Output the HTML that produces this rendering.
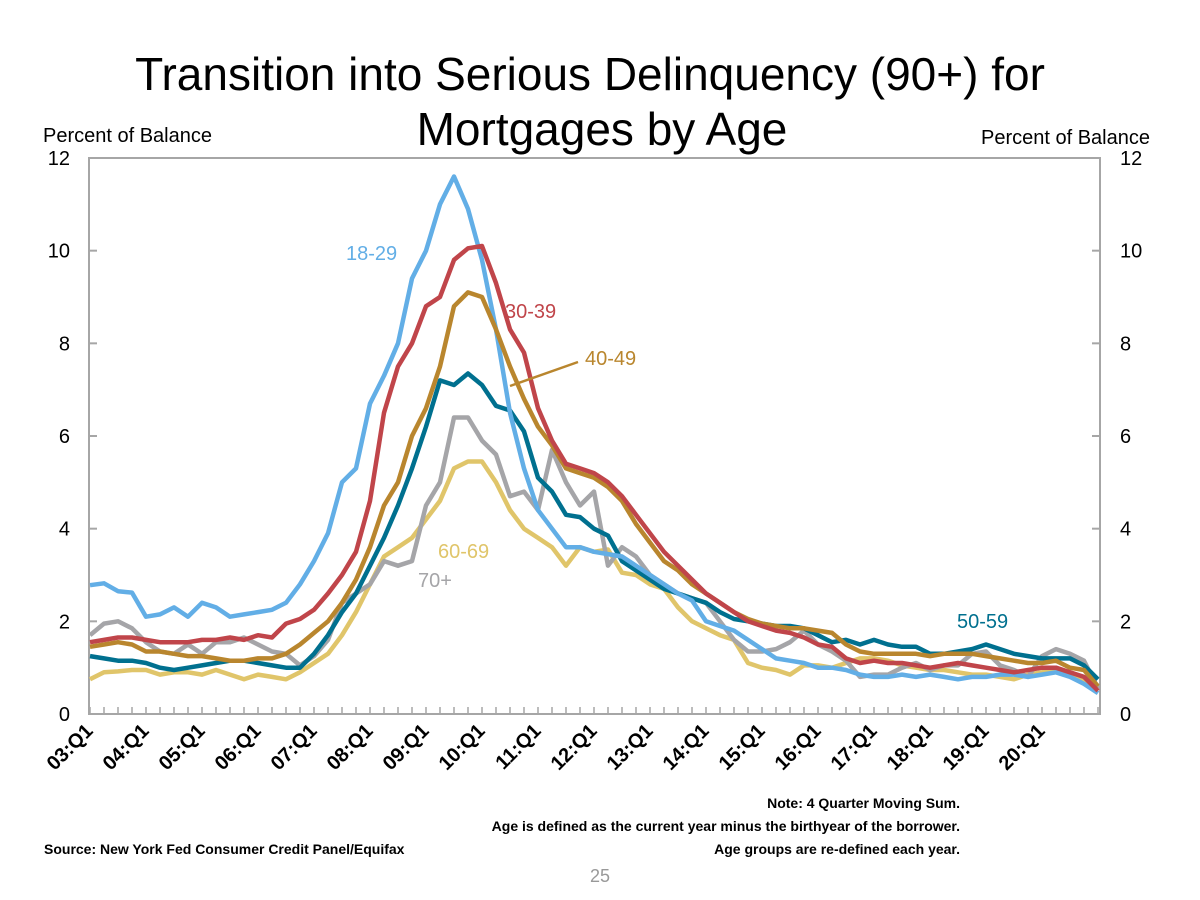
<!DOCTYPE html>
<html><head><meta charset="utf-8"><style>
body{margin:0;background:#fff;}
svg{display:block;font-family:"Liberation Sans",Arial,sans-serif;}
</style></head><body>
<svg id="chart" width="1200" height="900" viewBox="0 0 1200 900">
<text x="590" y="90" font-size="46" text-anchor="middle">Transition into Serious Delinquency (90+) for</text>
<text x="602" y="145" font-size="46" text-anchor="middle">Mortgages by Age</text>
<text x="43" y="142" font-size="20">Percent of Balance</text>
<text x="1150" y="144" font-size="20" text-anchor="end">Percent of Balance</text>
<g id="axes"></g>
<g id="series"></g>
<g id="labels">
<text x="346" y="260" font-size="20" fill="#62aee6">18-29</text>
<text x="505" y="318" font-size="20" fill="#c0454a">30-39</text>
<line x1="510" y1="386" x2="578" y2="362" stroke="#b9862e" stroke-width="2.5"/>
<text x="585" y="365" font-size="20" fill="#b9862e">40-49</text>
<text x="957" y="628" font-size="20" fill="#00708f">50-59</text>
<text x="438" y="558" font-size="20" fill="#e0c56a">60-69</text>
<text x="418" y="587" font-size="20" fill="#a5a5a8">70+</text>
</g>
<text x="960" y="808" font-size="14" font-weight="bold" text-anchor="end">Note: 4 Quarter Moving Sum.</text>
<text x="960" y="831" font-size="14" font-weight="bold" text-anchor="end">Age is defined as the current year minus the birthyear of the borrower.</text>
<text x="960" y="854" font-size="14" font-weight="bold" text-anchor="end">Age groups are re-defined each year.</text>
<text x="44" y="854" font-size="14" font-weight="bold">Source: New York Fed Consumer Credit Panel/Equifax</text>
<text x="600" y="882" font-size="18" fill="#999" text-anchor="middle">25</text>
</svg>
<script>
const yTicks=[0,2,4,6,8,10,12];
const yearLabels=["03:Q1","04:Q1","05:Q1","06:Q1","07:Q1","08:Q1","09:Q1","10:Q1","11:Q1","12:Q1","13:Q1","14:Q1","15:Q1","16:Q1","17:Q1","18:Q1","19:Q1","20:Q1"];
const s1829=[2.78,2.82,2.65,2.62,2.1,2.15,2.3,2.1,2.4,2.3,2.1,2.15,2.2,2.25,2.4,2.8,3.3,3.9,5.0,5.3,6.7,7.3,8.0,9.4,10.0,11.0,11.6,10.9,9.8,8.3,6.5,5.3,4.4,4.0,3.6,3.6,3.5,3.45,3.4,3.2,3.0,2.8,2.6,2.45,2.0,1.9,1.8,1.6,1.4,1.2,1.15,1.1,1.0,1.0,0.95,0.85,0.8,0.8,0.85,0.8,0.85,0.8,0.75,0.8,0.8,0.85,0.85,0.8,0.85,0.9,0.8,0.65,0.45];
const s3039=[1.55,1.6,1.65,1.65,1.6,1.55,1.55,1.55,1.6,1.6,1.65,1.6,1.7,1.65,1.95,2.05,2.25,2.6,3.0,3.5,4.6,6.5,7.5,8.0,8.8,9.0,9.8,10.05,10.1,9.3,8.3,7.8,6.6,5.9,5.4,5.3,5.2,5.0,4.7,4.3,3.9,3.5,3.2,2.9,2.6,2.4,2.2,2.0,1.9,1.8,1.75,1.65,1.5,1.45,1.2,1.1,1.15,1.1,1.1,1.05,1.0,1.05,1.1,1.05,1.0,0.95,0.9,0.95,1.0,1.0,0.9,0.8,0.5];
const s4049=[1.45,1.5,1.55,1.5,1.35,1.35,1.3,1.25,1.25,1.2,1.15,1.15,1.2,1.2,1.3,1.5,1.75,2.0,2.4,2.9,3.6,4.5,5.0,6.0,6.6,7.5,8.8,9.1,9.0,8.3,7.5,6.8,6.2,5.8,5.3,5.2,5.1,4.9,4.6,4.1,3.7,3.3,3.1,2.8,2.6,2.4,2.2,2.05,1.95,1.9,1.85,1.85,1.8,1.75,1.5,1.35,1.3,1.3,1.3,1.3,1.25,1.3,1.3,1.3,1.25,1.2,1.15,1.1,1.1,1.15,1.0,0.95,0.6];
const s5059=[1.25,1.2,1.15,1.15,1.1,1.0,0.95,1.0,1.05,1.1,1.15,1.15,1.1,1.05,1.0,1.0,1.3,1.7,2.2,2.6,3.2,3.8,4.5,5.3,6.2,7.2,7.1,7.35,7.1,6.65,6.55,6.1,5.1,4.8,4.3,4.25,4.0,3.85,3.3,3.1,2.9,2.7,2.6,2.5,2.4,2.2,2.05,2.0,1.95,1.9,1.9,1.85,1.7,1.55,1.6,1.5,1.6,1.5,1.45,1.45,1.3,1.3,1.35,1.4,1.5,1.4,1.3,1.25,1.2,1.2,1.2,1.05,0.75];
const s6069=[0.75,0.9,0.92,0.95,0.95,0.85,0.9,0.9,0.85,0.95,0.85,0.75,0.85,0.8,0.75,0.9,1.1,1.3,1.7,2.2,2.8,3.4,3.6,3.8,4.2,4.6,5.3,5.45,5.45,5.0,4.4,4.0,3.8,3.6,3.2,3.6,3.5,3.55,3.05,3.0,2.8,2.7,2.3,2.0,1.85,1.7,1.6,1.1,1.0,0.95,0.85,1.05,1.05,1.0,1.1,1.2,1.2,1.15,1.05,1.0,0.95,0.95,0.9,0.85,0.85,0.8,0.75,0.85,0.9,0.9,0.85,0.75,0.55];
const s70p=[1.7,1.95,2.0,1.85,1.55,1.35,1.3,1.5,1.3,1.55,1.55,1.65,1.5,1.35,1.3,1.05,1.25,1.6,2.4,2.6,2.8,3.3,3.2,3.3,4.5,5.0,6.4,6.4,5.9,5.6,4.7,4.8,4.4,5.7,5.0,4.5,4.8,3.2,3.6,3.4,3.0,2.8,2.6,2.5,2.4,2.0,1.6,1.35,1.35,1.4,1.55,1.8,1.5,1.35,1.15,0.8,0.85,0.85,1.0,1.1,0.95,1.05,1.05,1.3,1.35,1.05,0.95,0.8,1.25,1.4,1.3,1.15,0.55];
const seriesList=[
 {name:"series-60-69",data:s6069,color:"#e0c56a"},
 {name:"series-70-plus",data:s70p,color:"#a5a5a8"},
 {name:"series-50-59",data:s5059,color:"#00708f"},
 {name:"series-18-29",data:s1829,color:"#62aee6"},
 {name:"series-40-49",data:s4049,color:"#b9862e"},
 {name:"series-30-39",data:s3039,color:"#c0454a"}
];
const NS="http://www.w3.org/2000/svg";
const X0=90,X1=1100,Y0=714,Y1=158,NQ=73;
const xs=i=>X0+i*(1098-X0)/(NQ-1);
const ys=v=>Y0-(v/12)*(Y0-Y1);
function mk(tag,attrs,parent){const e=document.createElementNS(NS,tag);for(const k in attrs)e.setAttribute(k,attrs[k]);parent.appendChild(e);return e;}
const ax=document.getElementById('axes');
const fr=mk('rect',{x:89,y:158,width:1011,height:556,fill:'none',stroke:'#a6a6a6','stroke-width':2},ax);


yTicks.forEach(v=>{
 const y=ys(v);
 const t1=mk('line',{x1:89,x2:97,y1:y,y2:y,stroke:'#a6a6a6','stroke-width':2},ax);
 
 
 const t2=mk('line',{x1:1092,x2:1100,y1:y,y2:y,stroke:'#a6a6a6','stroke-width':2},ax);
 
 
 const l=mk('text',{x:70,y:y+7,'font-size':20,'text-anchor':'end'},ax);l.textContent=v;
 
 
 const r=mk('text',{x:1120,y:y+7,'font-size':20},ax);r.textContent=v;
 
 
});
for(let i=0;i<NQ;i++){
 const t=mk('line',{x1:xs(i),x2:xs(i),y1:714,y2:707,stroke:'#a6a6a6','stroke-width':1.5},ax);
 
 
}
yearLabels.forEach((lab,k)=>{
 const x=xs(k*4)+4,y=732;
 const t=mk('text',{x:x,y:y,'font-size':20,'font-weight':'bold','text-anchor':'end',transform:`rotate(-45 ${x} ${y})`},ax);
 t.textContent=lab;
 
 
});
const sg=document.getElementById('series');
seriesList.forEach(s=>{
 const pts=s.data.map((v,i)=>xs(i).toFixed(1)+','+ys(v).toFixed(1)).join(' ');
 const p=mk('polyline',{points:pts,fill:'none',stroke:s.color,'stroke-width':4.5,'stroke-linejoin':'round'},sg);
 
 
});
</script>
</body></html>
